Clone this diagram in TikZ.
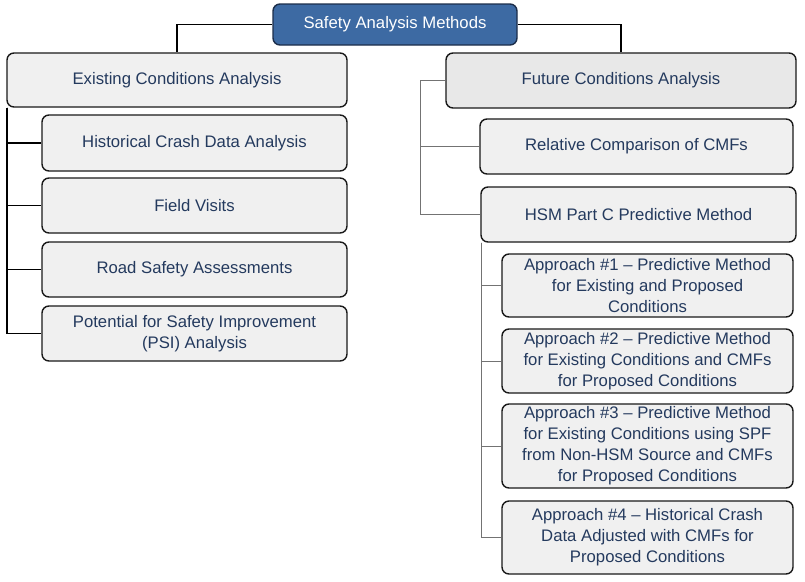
\documentclass[tikz,border=0pt]{standalone}
\usepackage{fontspec}
\setmainfont{Liberation Sans}
\definecolor{rootblue}{HTML}{3D6AA3}
\definecolor{rootline}{HTML}{1C2E4A}
\definecolor{boxtext}{HTML}{243A5E}
\definecolor{boxfill}{HTML}{F0F0F0}
\tikzset{
  methbox/.style={draw=black!90, line width=1.4pt, rounded corners=7pt, fill=boxfill,
    text=boxtext, align=center, inner sep=0pt, font=\fontsize{16.7}{21}\selectfont},
  rootbox/.style={methbox, fill=rootblue, draw=rootline, text=white},
  darklink/.style={draw=black, line width=1.3pt},
  greylink/.style={draw=black!55, line width=0.9pt}
}
\begin{document}
\begin{tikzpicture}[x=1pt,y=-1pt]
\useasboundingbox (0,0) rectangle (805,581);
\node[rootbox, minimum width=244pt, minimum height=41pt] (root) at (395,24.5) {Safety Analysis Methods};
\node[methbox, minimum width=340pt, minimum height=54pt] (exist) at (177,80) {Existing Conditions Analysis};
\node[methbox, minimum width=350pt, minimum height=55pt, fill=black!9] (future) at (621,80.5) {Future Conditions Analysis};
% existing conditions branch
\node[methbox, minimum width=305pt, minimum height=56pt] (hist) at (194.5,143) {Historical Crash Data Analysis};
\node[methbox, minimum width=305pt, minimum height=55pt] (field) at (194.5,205.5) {Field Visits};
\node[methbox, minimum width=305pt, minimum height=55pt] (road) at (194.5,269.5) {Road Safety Assessments};
\node[methbox, minimum width=305pt, minimum height=55pt] (psi) at (194.5,333.5) {Potential for Safety Improvement\\(PSI) Analysis};
% future conditions branch
\node[methbox, minimum width=313pt, minimum height=55pt] (rel) at (636.5,146.5) {Relative Comparison of CMFs};
\node[methbox, minimum width=315pt, minimum height=55pt] (hsm) at (638.5,214.5) {HSM Part C Predictive Method};
\node[methbox, minimum width=291pt, minimum height=63pt] (appone) at (647.5,285.5) {Approach \#1 -- Predictive Method\\for Existing and Proposed\\Conditions};
\node[methbox, minimum width=291pt, minimum height=64pt] (apptwo) at (647.5,361) {Approach \#2 -- Predictive Method\\for Existing Conditions and CMFs\\for Proposed Conditions};
\node[methbox, minimum width=291pt, minimum height=84pt] (appthree) at (647.5,446) {Approach \#3 -- Predictive Method\\for Existing Conditions using SPF\\from Non-HSM Source and CMFs\\for Proposed Conditions};
\node[methbox, minimum width=291pt, minimum height=73pt] (appfour) at (647.5,537.5) {Approach \#4 -- Historical Crash\\Data Adjusted with CMFs for\\Proposed Conditions};
% connectors
\draw[darklink] (root.west) -| (exist.north);
\draw[darklink] (root.east) -| (future.north);
\foreach \n in {hist,field,road,psi}
  \draw[darklink] ([xshift=0.7pt]exist.south west) |- (\n.west);
\coordinate (ftrunk) at (420,80.5);
\draw[greylink] (future.west) -- (ftrunk) |- (hsm.west);
\draw[greylink] (ftrunk) |- (rel.west);
\foreach \n in {appone,apptwo,appthree,appfour}
  \draw[greylink] ([xshift=1pt]hsm.south west) |- (\n.west);
\end{tikzpicture}
\end{document}
